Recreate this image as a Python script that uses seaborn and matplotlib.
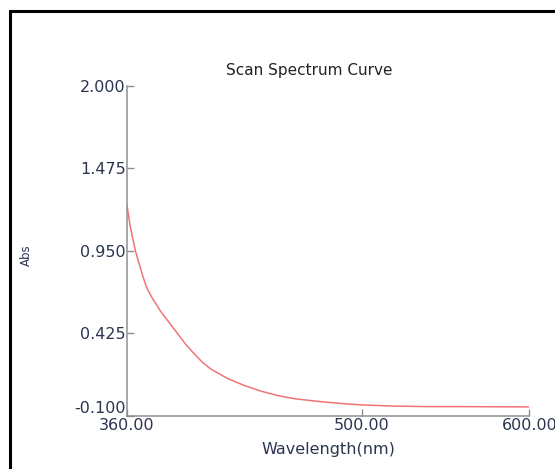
import numpy as np
import pandas as pd
import matplotlib
matplotlib.use('Agg')
import matplotlib.pyplot as plt
import seaborn as sns
from matplotlib.patches import Rectangle

sns.set_style('white')
plt.rcParams['font.family'] = ['DejaVu Sans']

# scan data
wavelength = [360, 362, 365, 368, 370, 372, 375, 378, 380, 385, 390, 395, 400,
              405, 410, 420, 430, 440, 450, 460, 475, 490, 500, 520, 540, 560,
              580, 600]
absorbance = [1.24, 1.10, 0.95, 0.84, 0.77, 0.71, 0.65, 0.60, 0.565, 0.495, 0.425,
              0.355, 0.295, 0.24, 0.197, 0.137, 0.092, 0.056, 0.028, 0.008, -0.01,
              -0.024, -0.031, -0.039, -0.042, -0.042, -0.043, -0.044]
x_ticks = [360, 500, 600]
y_ticks = [-0.100, 0.425, 0.950, 1.475, 2.000]

df = pd.DataFrame({'Wavelength(nm)': wavelength, 'Abs': absorbance})

fig = plt.figure(figsize=(5.55, 4.69), dpi=100)
ax = fig.add_axes([0.2288, 0.1136, 0.9537 - 0.2288, 0.8173 - 0.1136])

sns.lineplot(data=df, x='Wavelength(nm)', y='Abs', ax=ax, color='#f07575', linewidth=1.1)

ax.set_xlim(360, 600)
ax.set_ylim(-0.1, 2.0)
ax.set_xticks(x_ticks)
ax.set_yticks(y_ticks)
ax.set_xticklabels([f'{v:.2f}' for v in x_ticks])
ax.set_yticklabels([f'{v:.3f}' for v in y_ticks])

txt_color = '#2b3550'
for side in ['top', 'right']:
    ax.spines[side].set_visible(False)
for side in ['left', 'bottom']:
    ax.spines[side].set_color('#8f8f8f')
    ax.spines[side].set_linewidth(1.1)
ax.tick_params(axis='both', direction='in', length=5, width=1, color='#8f8f8f',
               labelsize=11.5, labelcolor=txt_color, left=True, bottom=True)
ax.tick_params(axis='y', pad=1)
ax.tick_params(axis='x', pad=2)
ax.yaxis.get_major_ticks()[0].label1.set_verticalalignment('bottom')

ax.set_xlabel('Wavelength(nm)', fontsize=11.5, color=txt_color, labelpad=6)
ax.set_ylabel('Abs', fontsize=8.5, color=txt_color, labelpad=0)
ax.yaxis.set_label_coords((33 - 127) / (529.3 - 127), (415.7 - 255) / 330)

fig.text(309 / 555, 1 - 70 / 469, 'Scan Spectrum Curve', ha='center', va='center',
         fontsize=11, color='#222222')

# black frame around the panel
fig.patches.append(Rectangle((10 / 555, -0.2), 1.2, 1 - 11 / 469 + 0.2,
                             transform=fig.transFigure, fill=False,
                             edgecolor='black', linewidth=2.2))

fig.savefig('out.png', dpi=100)
